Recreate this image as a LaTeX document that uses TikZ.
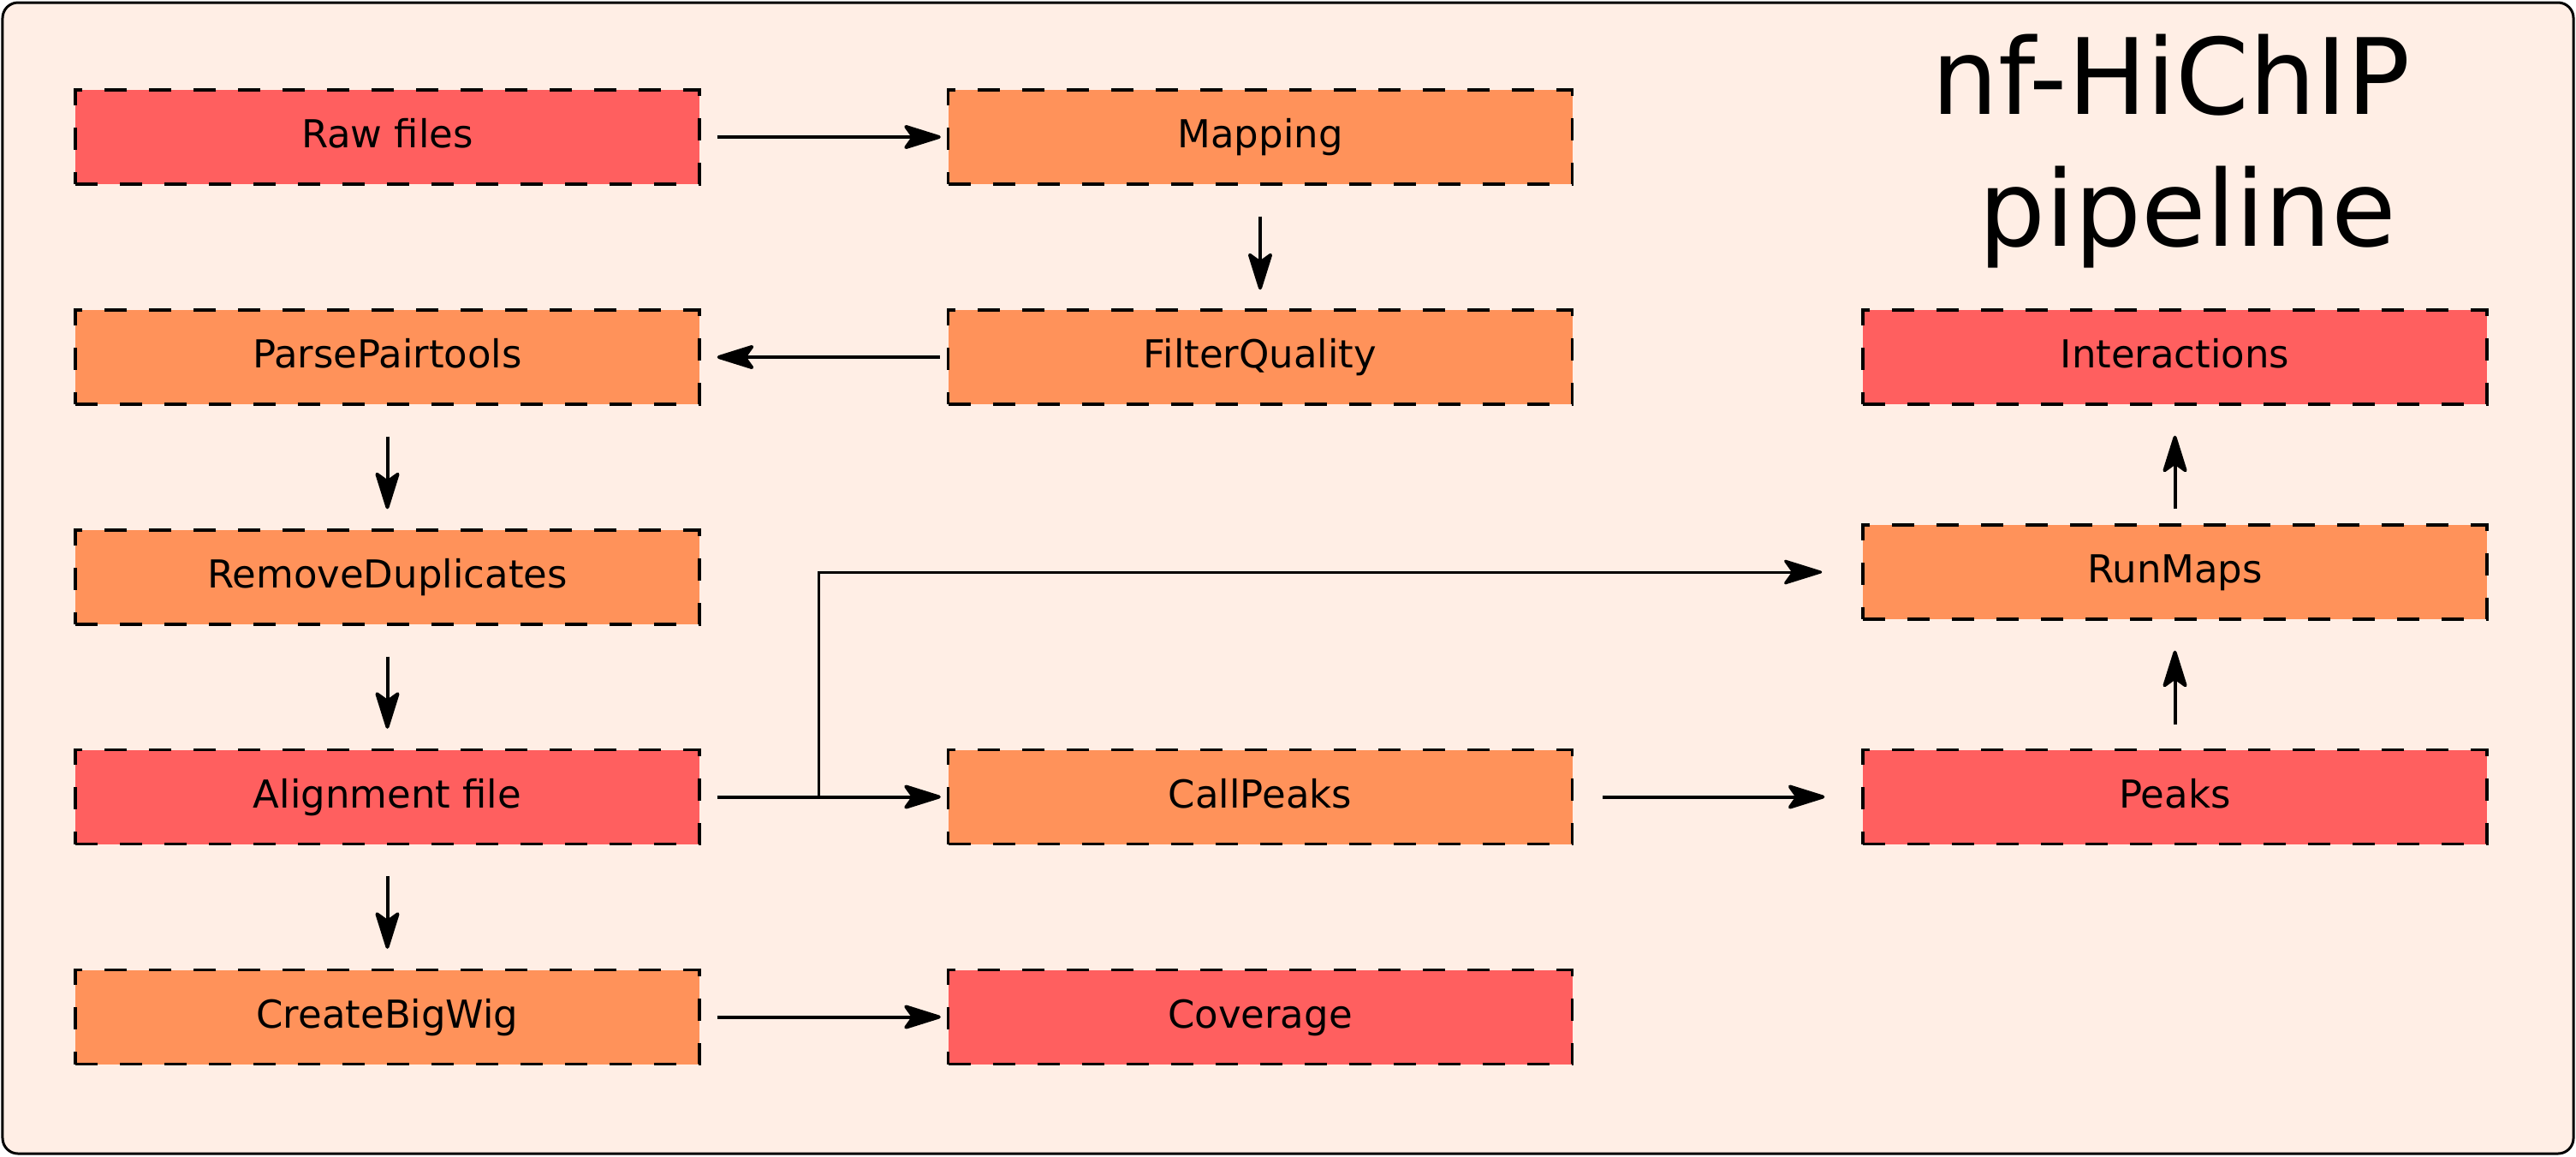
\documentclass[tikz,border=0pt]{standalone}
\usepackage{fontspec}
\setmainfont{DejaVu Sans}
\usetikzlibrary{arrows.meta}

\definecolor{bgpeach}{HTML}{FFEEE5}
\definecolor{stepred}{HTML}{FF5F5F}
\definecolor{steporange}{HTML}{FF925A}

\begin{document}
\begin{tikzpicture}[
    box/.style={draw=black, dash pattern=on 0.26cm off 0.26cm, line width=0.034cm,
        minimum width=7.29cm, minimum height=1.10cm, inner sep=0pt,
        text height=0.73em, text depth=0pt, font=\fontsize{12.8}{15}\selectfont},
    result/.style={box, fill=stepred},
    process/.style={box, fill=steporange},
    flow/.style={-{Stealth[length=0.5cm, width=0.31cm, inset=0.11cm, round]}, line width=0.04cm},
    title/.style={anchor=base, inner sep=0pt, font=\fontsize{35}{42}\selectfont}
  ]
    \useasboundingbox (0,0) rectangle (30.09,-13.50);

    % Draw the frame
    \draw[rounded corners=0.18cm, line width=0.03cm, fill=bgpeach] (0.03,-0.03) rectangle (30.06,-13.47);

    % Title
    \node[title] (title) at (25.36,-1.33) {nf-HiChIP};
    \node[title] (subtitle) at (25.55,-2.87) {pipeline};

    % Draw the steps
    \node[result]  (raw)       at (4.525,-1.60)   {Raw files};
    \node[process] (mapping)   at (14.72,-1.60)   {Mapping};
    \node[process] (filter)    at (14.72,-4.17)   {FilterQuality};
    \node[process] (parse)     at (4.525,-4.17)   {ParsePairtools};
    \node[process] (dedup)     at (4.525,-6.74)   {RemoveDuplicates};
    \node[result]  (align)     at (4.525,-9.305)  {Alignment file};
    \node[process] (bigwig)    at (4.525,-11.875) {CreateBigWig};
    \node[process] (callpeaks) at (14.72,-9.305)  {CallPeaks};
    \node[result]  (coverage)  at (14.72,-11.875) {Coverage};
    \node[result]  (peaks)     at (25.405,-9.305) {Peaks};
    \node[process] (runmaps)   at (25.405,-6.68)  {RunMaps};
    \node[result]  (interact)  at (25.405,-4.17)  {Interactions};

    % Draw the arrows
    \draw[flow, shorten <=0.19cm, shorten >=0.07cm] (raw) -- (mapping);
    \draw[flow, shorten <=0.36cm, shorten >=0.22cm] (mapping) -- (filter);
    \draw[flow, shorten <=0.08cm, shorten >=0.19cm] (filter) -- (parse);
    \draw[flow, shorten <=0.36cm, shorten >=0.23cm] (parse) -- (dedup);
    \draw[flow, shorten <=0.36cm, shorten >=0.23cm] (dedup) -- (align);
    \draw[flow, shorten <=0.36cm, shorten >=0.23cm] (align) -- (bigwig);
    \draw[flow, shorten <=0.19cm, shorten >=0.07cm] (bigwig) -- (coverage);
    \draw[flow, shorten <=0.19cm, shorten >=0.07cm] (align) -- (callpeaks);
    \draw[flow, shorten <=0.34cm, shorten >=0.43cm] (callpeaks) -- (peaks);
    \draw[flow, shorten <=0.28cm, shorten >=0.35cm] (peaks) -- (runmaps);
    \draw[flow, shorten <=0.17cm, shorten >=0.35cm] (runmaps) -- (interact);

    % Branch to RunMaps
    \coordinate (split) at (9.56,-9.305);
    \draw[flow, line width=0.03cm, shorten >=0.46cm] (split) |- (runmaps);
\end{tikzpicture}
\end{document}
